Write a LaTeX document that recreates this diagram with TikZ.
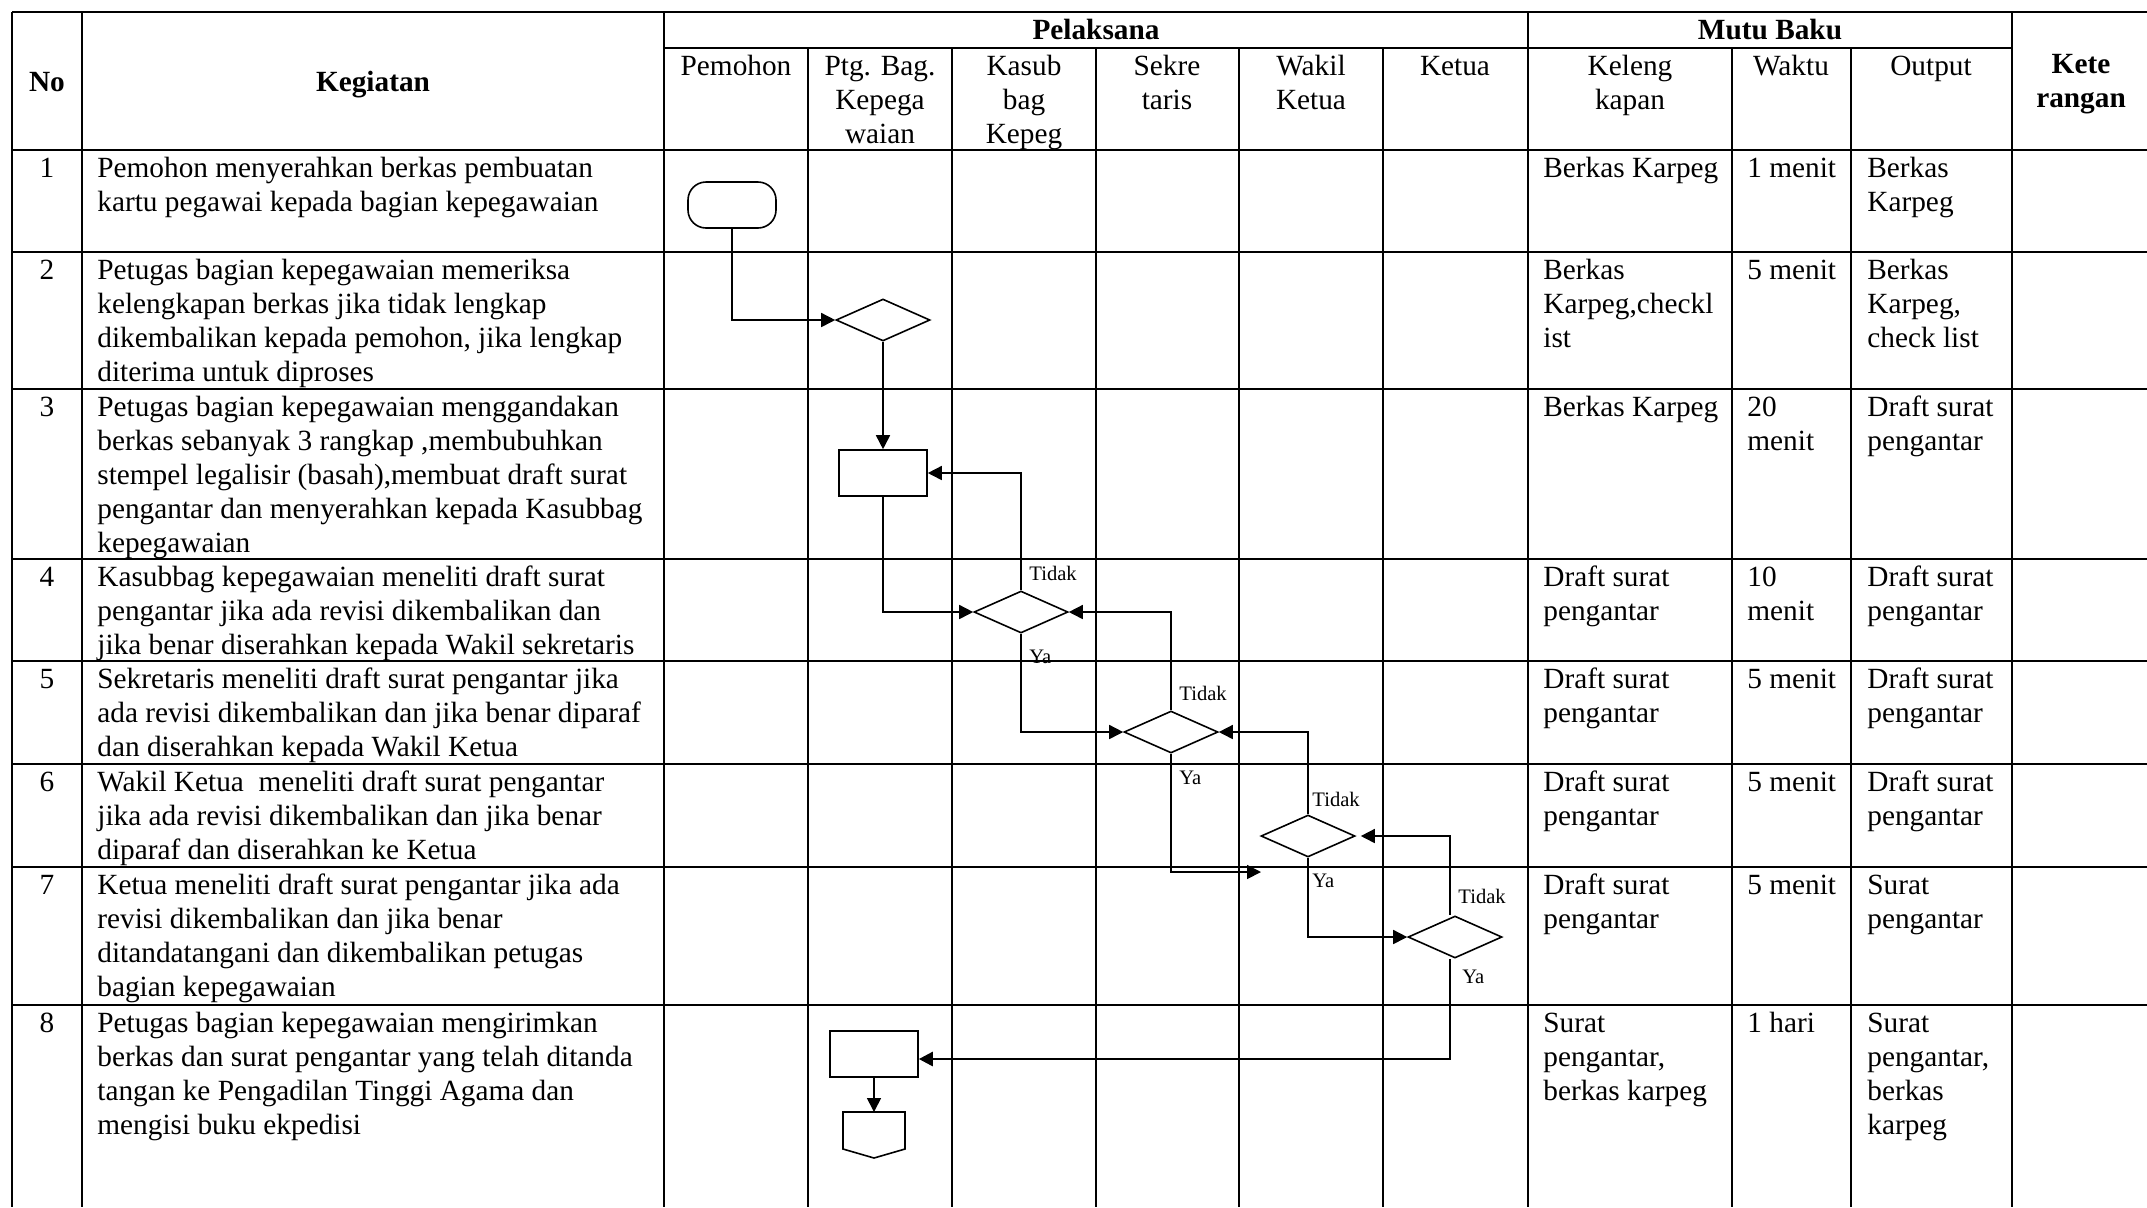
\documentclass[tikz,border=0pt]{standalone}
\usepackage{fontspec}
\setmainfont{Liberation Serif}
\usetikzlibrary{shapes.geometric,arrows.meta}
\newcommand\cellfont{\fontsize{14.65}{17}\selectfont}
\newcommand\labfont{\fontsize{10.3}{12}\selectfont}

\begin{document}
\begin{tikzpicture}[x=0.5pt,y=-0.5pt,
  tabline/.style={line width=0.6pt},
  celltext/.style={anchor=north west,inner sep=0pt,align=left,font=\cellfont},
  cellmid/.style={anchor=north,inner sep=0pt,align=center,font=\cellfont},
  headtext/.style={anchor=base,inner sep=0pt,font=\cellfont\bfseries},
  answer/.style={anchor=base west,inner sep=0pt,font=\labfont},
  flowline/.style={line width=0.8pt,-{Triangle[length=7pt,width=7pt]}},
  terminal/.style={draw,line width=0.8pt,rounded corners=9pt,minimum width=44pt,minimum height=23pt,inner sep=0pt},
  process/.style={draw,line width=0.8pt,minimum width=44pt,minimum height=23pt,inner sep=0pt},
  decision/.style={draw,diamond,line width=0.8pt,minimum width=47pt,minimum height=21pt,inner sep=0pt}]
\useasboundingbox (0,0) rectangle (2147,1207);

\draw[tabline] (12,12) -- (2147,12);
\draw[tabline] (664,48) -- (2012,48);
\foreach \y in {150,252,389,559,661,764,867,1005}
  \draw[tabline] (12,\y) -- (2147,\y);
\foreach \x in {12,82,664,1528,2012}
  \draw[tabline] (\x,12) -- (\x,1207);
\foreach \x in {808,952,1096,1239,1383,1732,1851}
  \draw[tabline] (\x,48) -- (\x,1207);

\node[headtext] (hno) at (47,91) {No};
\node[headtext] (hkeg) at (373,91) {Kegiatan};
\node[headtext] (hpel) at (1096,39) {Pelaksana};
\node[headtext] (hmutu) at (1770,39) {Mutu Baku};
\node[cellmid,font=\cellfont\bfseries] (hket) at (2081,49) {\strut Kete\\rangan};
\node[cellmid] (hpem) at (736,51) {\strut Pemohon};
\node[cellmid] (hptg) at (880,51) {\strut Ptg. Bag.\\Kepega\\waian};
\node[cellmid] (hkas) at (1024,51) {\strut Kasub\\bag\\Kepeg};
\node[cellmid] (hsek) at (1167,51) {\strut Sekre\\taris};
\node[cellmid] (hwak) at (1311,51) {\strut Wakil\\Ketua};
\node[cellmid] (hktu) at (1455,51) {\strut Ketua};
\node[cellmid] (hkel) at (1630,51) {\strut Keleng\\kapan};
\node[cellmid] (hwkt) at (1791,51) {\strut Waktu};
\node[cellmid] (hout) at (1931,51) {\strut Output};

\node[cellmid] (n1) at (47,153) {\strut 1};
\node[celltext] (k1) at (97,153) {\strut Pemohon menyerahkan berkas pembuatan\\kartu pegawai kepada bagian kepegawaian};
\node[celltext] (l1) at (1543,153) {\strut Berkas Karpeg};
\node[celltext] (w1) at (1747,153) {\strut 1 menit};
\node[celltext] (o1) at (1867,153) {\strut Berkas\\Karpeg};

\node[cellmid] (n2) at (47,255) {\strut 2};
\node[celltext] (k2) at (97,255) {\strut Petugas bagian kepegawaian memeriksa\\kelengkapan berkas jika tidak lengkap\\dikembalikan kepada pemohon, jika lengkap\\diterima untuk diproses};
\node[celltext] (l2) at (1543,255) {\strut Berkas\\Karpeg,checkl\\ist};
\node[celltext] (w2) at (1747,255) {\strut 5 menit};
\node[celltext] (o2) at (1867,255) {\strut Berkas\\Karpeg,\\check list};

\node[cellmid] (n3) at (47,392) {\strut 3};
\node[celltext] (k3) at (97,392) {\strut Petugas bagian kepegawaian menggandakan\\berkas sebanyak 3 rangkap ,membubuhkan\\stempel legalisir (basah),membuat draft surat\\pengantar dan menyerahkan kepada Kasubbag\\kepegawaian};
\node[celltext] (l3) at (1543,392) {\strut Berkas Karpeg};
\node[celltext] (w3) at (1747,392) {\strut 20\\menit};
\node[celltext] (o3) at (1867,392) {\strut Draft surat\\pengantar};

\node[cellmid] (n4) at (47,562) {\strut 4};
\node[celltext] (k4) at (97,562) {\strut Kasubbag kepegawaian meneliti draft surat\\pengantar jika ada revisi dikembalikan dan\\jika benar diserahkan kepada Wakil sekretaris};
\node[celltext] (l4) at (1543,562) {\strut Draft surat\\pengantar};
\node[celltext] (w4) at (1747,562) {\strut 10\\menit};
\node[celltext] (o4) at (1867,562) {\strut Draft surat\\pengantar};

\node[cellmid] (n5) at (47,664) {\strut 5};
\node[celltext] (k5) at (97,664) {\strut Sekretaris meneliti draft surat pengantar jika\\ada revisi dikembalikan dan jika benar diparaf\\dan diserahkan kepada Wakil Ketua};
\node[celltext] (l5) at (1543,664) {\strut Draft surat\\pengantar};
\node[celltext] (w5) at (1747,664) {\strut 5 menit};
\node[celltext] (o5) at (1867,664) {\strut Draft surat\\pengantar};

\node[cellmid] (n6) at (47,767) {\strut 6};
\node[celltext] (k6) at (97,767) {\strut Wakil Ketua\ \ meneliti draft surat pengantar\\jika ada revisi dikembalikan dan jika benar\\diparaf dan diserahkan ke Ketua};
\node[celltext] (l6) at (1543,767) {\strut Draft surat\\pengantar};
\node[celltext] (w6) at (1747,767) {\strut 5 menit};
\node[celltext] (o6) at (1867,767) {\strut Draft surat\\pengantar};

\node[cellmid] (n7) at (47,870) {\strut 7};
\node[celltext] (k7) at (97,870) {\strut Ketua meneliti draft surat pengantar jika ada\\revisi dikembalikan dan jika benar\\ditandatangani dan dikembalikan petugas\\bagian kepegawaian};
\node[celltext] (l7) at (1543,870) {\strut Draft surat\\pengantar};
\node[celltext] (w7) at (1747,870) {\strut 5 menit};
\node[celltext] (o7) at (1867,870) {\strut Surat\\pengantar};

\node[cellmid] (n8) at (47,1008) {\strut 8};
\node[celltext] (k8) at (97,1008) {\strut Petugas bagian kepegawaian mengirimkan\\berkas dan surat pengantar yang telah ditanda\\tangan ke Pengadilan Tinggi Agama dan\\mengisi buku ekpedisi};
\node[celltext] (l8) at (1543,1008) {\strut Surat\\pengantar,\\berkas karpeg};
\node[celltext] (w8) at (1747,1008) {\strut 1 hari};
\node[celltext] (o8) at (1867,1008) {\strut Surat\\pengantar,\\berkas\\karpeg};

\node[terminal] (start) at (732,205) {};
\node[decision] (d1) at (883,320) {};
\node[process] (p1) at (883,473) {};
\node[decision] (d2) at (1021,612) {};
\node[decision] (d3) at (1171,732) {};
\node[decision] (d4) at (1308,836) {};
\node[decision] (d5) at (1455,937) {};
\node[process] (p2) at (874,1054) {};
\coordinate (miss) at (1261,872);
\coordinate (op) at (874,1112);
\draw[line width=0.8pt] (op) ++(-31,0) -- ++(62,0) -- ++(0,37) -- ++(-31,9) -- ++(-31,-9) -- cycle;

\draw[flowline] (start.south) |- (d1.west);
\draw[flowline] (d1.south) -- (p1.north);
\draw[flowline] (p1.south) |- (d2.west);
\draw[flowline] (d2.north) |- (p1.east);
\draw[flowline] (d2.south) |- (d3.west);
\draw[flowline] (d3.north) |- (d2.east);
\draw[flowline] (d3.south) |- (miss);
\draw[flowline] (d4.north) |- (d3.east);
\draw[flowline] (d4.south) |- (d5.west);
\draw[flowline,shorten >=2.5pt] ([xshift=-2.5pt]d5.north) |- (d4.east);
\draw[flowline,line width=1.3pt] ([xshift=-2.5pt]d5.south) |- ([yshift=-2.5pt]p2.east);
\draw[flowline] (p2.south) -- (op);

\node[answer] (t2) at ([shift={(8,-10)}]d2.north) {Tidak};
\node[answer] (y2) at ([shift={(8,30)}]d2.south) {Ya};
\node[answer] (t3) at ([shift={(8,-10)}]d3.north) {Tidak};
\node[answer] (y3) at ([shift={(8,31)}]d3.south) {Ya};
\node[answer] (t4) at ([shift={(4,-8)}]d4.north) {Tidak};
\node[answer] (y4) at ([shift={(4,30)}]d4.south) {Ya};
\node[answer] (t5) at ([shift={(3,-12)}]d5.north) {Tidak};
\node[answer] (y5) at ([shift={(7,25)}]d5.south) {Ya};
\end{tikzpicture}
\end{document}
